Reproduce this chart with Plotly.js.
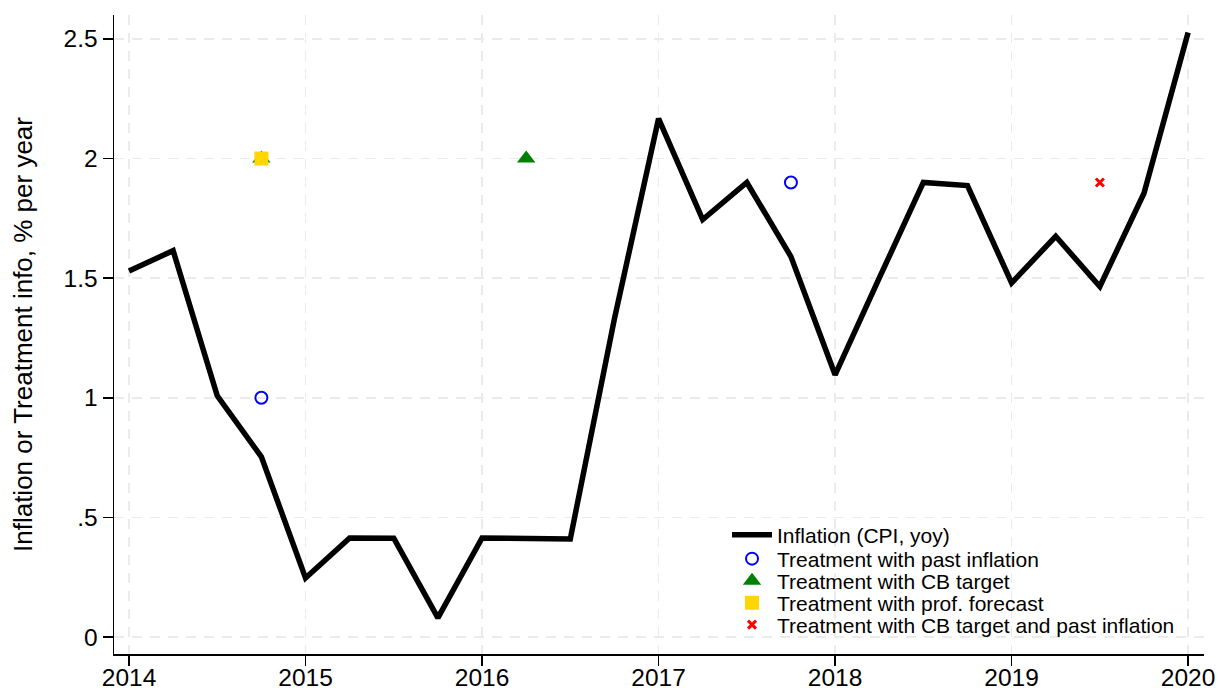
<!DOCTYPE html>
<html><head><meta charset="utf-8">
<script src="https://cdn.plot.ly/plotly-3.0.1.min.js"></script>
<style>body{margin:0;background:#fff}#c{width:1220px;height:693px}</style>
</head><body><div id="c"></div>
<script>
const quarters = [2014,2014.25,2014.5,2014.75,2015,2015.25,2015.5,2015.75,2016,2016.25,2016.5,2016.75,2017,2017.25,2017.5,2017.75,2018,2018.25,2018.5,2018.75,2019,2019.25,2019.5,2019.75,2020];
const inflation = [1.53,1.615,1.008,0.753,0.247,0.414,0.413,0.08,0.414,0.412,0.41,1.33,2.167,1.745,1.90,1.59,1.096,1.50,1.90,1.887,1.48,1.675,1.465,1.855,2.527];
const pastX = [2014.75,2017.75];
const pastY = [1.0,1.9];
const cbX = [2014.75,2016.25];
const cbY = [2.0,2.0];
const profX = [2014.75];
const profY = [2.0];
const cbPastX = [2019.5];
const cbPastY = [1.9];
const xTicks = [2014,2015,2016,2017,2018,2019,2020];
const yTicks = [0,0.5,1,1.5,2,2.5];
const yTickText = ['0','.5','1','1.5','2','2.5'];

const font = {family:'Liberation Sans, Arial, sans-serif', color:'#000'};
const f = s => Object.assign({size:s},font);
const traces = [
 {x:quarters,y:inflation,mode:'lines',name:'Inflation (CPI, yoy)',line:{color:'#000',width:5.5},legend:'legend'},
 {x:pastX,y:pastY,mode:'markers',name:'Treatment with past inflation',marker:{symbol:'circle-open',color:'#0000ff',size:12,line:{width:2,color:'#0000ff'}},legend:'legend2'},
 {x:cbX,y:cbY,mode:'markers',name:'Treatment with CB target',marker:{symbol:'triangle-up',color:'#008000',size:16},legend:'legend3'},
 {x:profX,y:profY,mode:'markers',name:'Treatment with prof. forecast',marker:{symbol:'square',color:'#ffd700',size:14},legend:'legend4'},
 {x:cbPastX,y:cbPastY,mode:'markers',name:'Treatment with CB target and past inflation',marker:{symbol:'x-thin',color:'#ff0000',size:8,line:{width:3,color:'#ff0000'}},legend:'legend5'}
];
const legRows = [0.1862,0.1487,0.1142,0.0798,0.0454];
const legBase = {x:0.5624,xanchor:'left',yanchor:'middle',bgcolor:'rgba(0,0,0,0)',font:f(21),itemwidth:40};
const gridDash = '10px,8px';
const layout = {
 width:1220,height:693,
 margin:{l:114,r:16,t:15,b:39},
 paper_bgcolor:'#fff',plot_bgcolor:'#fff',
 font:f(24.5),
 showlegend:true,
 legend:Object.assign({y:legRows[0]},legBase),
 legend2:Object.assign({y:legRows[1]},legBase),
 legend3:Object.assign({y:legRows[2]},legBase),
 legend4:Object.assign({y:legRows[3]},legBase),
 legend5:Object.assign({y:legRows[4]},legBase),
 xaxis:{range:[2013.915,2020.09],tickvals:xTicks,ticktext:xTicks.map(String),showline:true,linecolor:'#000',linewidth:1.5,
   ticks:'outside',ticklen:10,tickcolor:'#000',tickwidth:1.5,showgrid:true,gridcolor:'#ebebeb',griddash:gridDash,gridwidth:1.5,zeroline:false,
   tickfont:f(24.5),ticklabelstandoff:-9},
 yaxis:{range:[-0.071,2.60],tickvals:yTicks,ticktext:yTickText,showline:true,linecolor:'#000',linewidth:1.5,
   ticks:'outside',ticklen:10,tickcolor:'#000',tickwidth:1.5,showgrid:true,gridcolor:'#ebebeb',griddash:gridDash,gridwidth:1.5,zeroline:false,
   tickfont:f(24.5),
   title:{text:'Inflation or Treatment info, % per year',font:f(26),standoff:23}}
};
Plotly.newPlot('c',traces,layout,{displayModeBar:false,staticPlot:true});
</script></body></html>
